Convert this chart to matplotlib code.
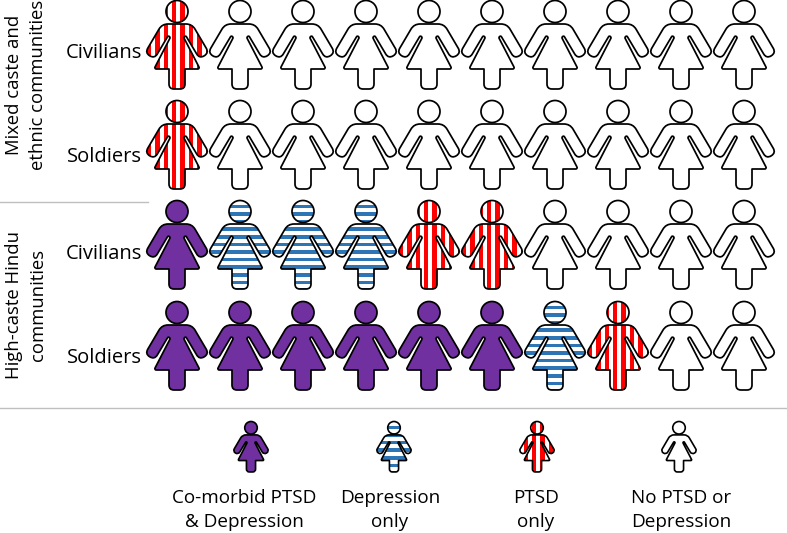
import numpy as np
import matplotlib
matplotlib.use('Agg')
from matplotlib import pyplot as plt
from matplotlib.path import Path
from matplotlib.patches import PathPatch, Rectangle
from matplotlib.transforms import Affine2D

plt.rcParams['font.family'] = ['Open Sans', 'DejaVu Sans']

# Counts out of ten, per row
row_names = ['Civilians', 'Soldiers', 'Civilians', 'Soldiers']
comorbid = [0, 0, 1, 6]
depression = [0, 0, 3, 1]
ptsd = [1, 1, 2, 1]
group_names = ['Mixed caste and\nethnic communities', 'High-caste Hindu\ncommunities']
legend_names = ['Co-morbid PTSD\n& Depression', 'Depression\nonly', 'PTSD\nonly', 'No PTSD or\nDepression']
legend_kinds = ['comorbid', 'depression', 'ptsd', 'none']

PURPLE = '#7030a0'
BLUE = '#2e75b6'
RED = '#ff0000'

# Pictogram outline (right half), pixels of a full size figure, origin at top of the head
# each corner is x, y, rounding radius
half = [(15, 23.5, 6), (32, 52.4, 5.5), (22.5, 58.2, 5.5), (8.7, 35, 1.5), (6.7, 37, 1),
        (23, 68.5, 2.5), (8, 68.5, 0), (8, 88.5, 5)]


def rounded_path(corners):
    verts, codes = [], []
    n = len(corners)
    for i in range(n):
        p = np.array(corners[i][:2], float)
        r = corners[i][2]
        a = np.array(corners[i - 1][:2], float)
        b = np.array(corners[(i + 1) % n][:2], float)
        start = p + (a - p) / np.linalg.norm(a - p) * r
        end = p + (b - p) / np.linalg.norm(b - p) * r
        verts.append(start)
        codes.append(Path.MOVETO if i == 0 else Path.LINETO)
        verts += [p, end]
        codes += [Path.CURVE3, Path.CURVE3]
    verts.append(verts[0])
    codes.append(Path.CLOSEPOLY)
    return Path(verts, codes)


body = rounded_path(half + [(-x, y, r) for x, y, r in reversed(half)])
head = Path.circle((0, 11), 11)


def stripes(ax, kind, cx, top, clip):
    # the stripe pattern keeps its pixel size in the small legend figures
    if kind == 'ptsd':
        for i in range(-5, 5):
            r = Rectangle((cx - 5 + 8.4 * i, top - 2), 4.3, 94, fc=RED, ec='none', zorder=2)
            ax.add_patch(r)
            r.set_clip_path(clip)
    else:
        for i in range(0, 13):
            r = Rectangle((cx - 33, top + 4 + 7.6 * i), 66, 3.7, fc=BLUE, ec='none', zorder=2)
            ax.add_patch(r)
            r.set_clip_path(clip)


def draw_figure(ax, cx, top, kind, scale=1.0, lw=1.25):
    tr = Affine2D().scale(scale).translate(cx, top) + ax.transData
    for p in (body, head):
        fc = PURPLE if kind == 'comorbid' else 'white'
        ax.add_patch(PathPatch(p, fc=fc, ec='none', transform=tr, zorder=1))
        if kind in ('ptsd', 'depression'):
            clip = PathPatch(p, transform=tr, fc='none', ec='none')
            ax.add_patch(clip)
            stripes(ax, kind, cx, top, clip)
        ax.add_patch(PathPatch(p, fc='none', ec='black', lw=lw, transform=tr, zorder=3, joinstyle='round'))


fig = plt.figure(figsize=(7.87, 5.33), dpi=100)
ax = fig.add_axes([0, 0, 1, 1])
ax.set_xlim(0, 787)
ax.set_ylim(533, 0)
ax.axis('off')

row_tops = [0.5, 100.5, 200.5, 301.5]
label_y = [53, 157, 254, 358]
for r, name in enumerate(row_names):
    kinds = ['comorbid'] * comorbid[r] + ['depression'] * depression[r] + ['ptsd'] * ptsd[r]
    kinds += ['none'] * (10 - len(kinds))
    for c, kind in enumerate(kinds):
        draw_figure(ax, 177 + 63 * c, row_tops[r], kind)
    ax.text(142, label_y[r], name, ha='right', va='center', fontsize=14.5)

ax.text(26, 85, group_names[0], rotation=90, ha='center', va='center', fontsize=13.3, linespacing=1.45)
ax.text(26, 305, group_names[1], rotation=90, ha='center', va='center', fontsize=13.3, linespacing=1.45)

ax.plot([0, 148], [202, 202], color='#bfbfbf', lw=1)
ax.plot([0, 787], [408, 408], color='#bfbfbf', lw=1)

legend_x = [251, 394, 537, 679]
label_x = [244, 390, 536, 681]
for x, lx, kind, name in zip(legend_x, label_x, legend_kinds, legend_names):
    draw_figure(ax, x, 421.5, kind, scale=0.57, lw=1.2)
    ax.text(lx, 510, name, ha='center', va='center', fontsize=13.6, linespacing=1.42)

fig.savefig('out.png', dpi=100)
